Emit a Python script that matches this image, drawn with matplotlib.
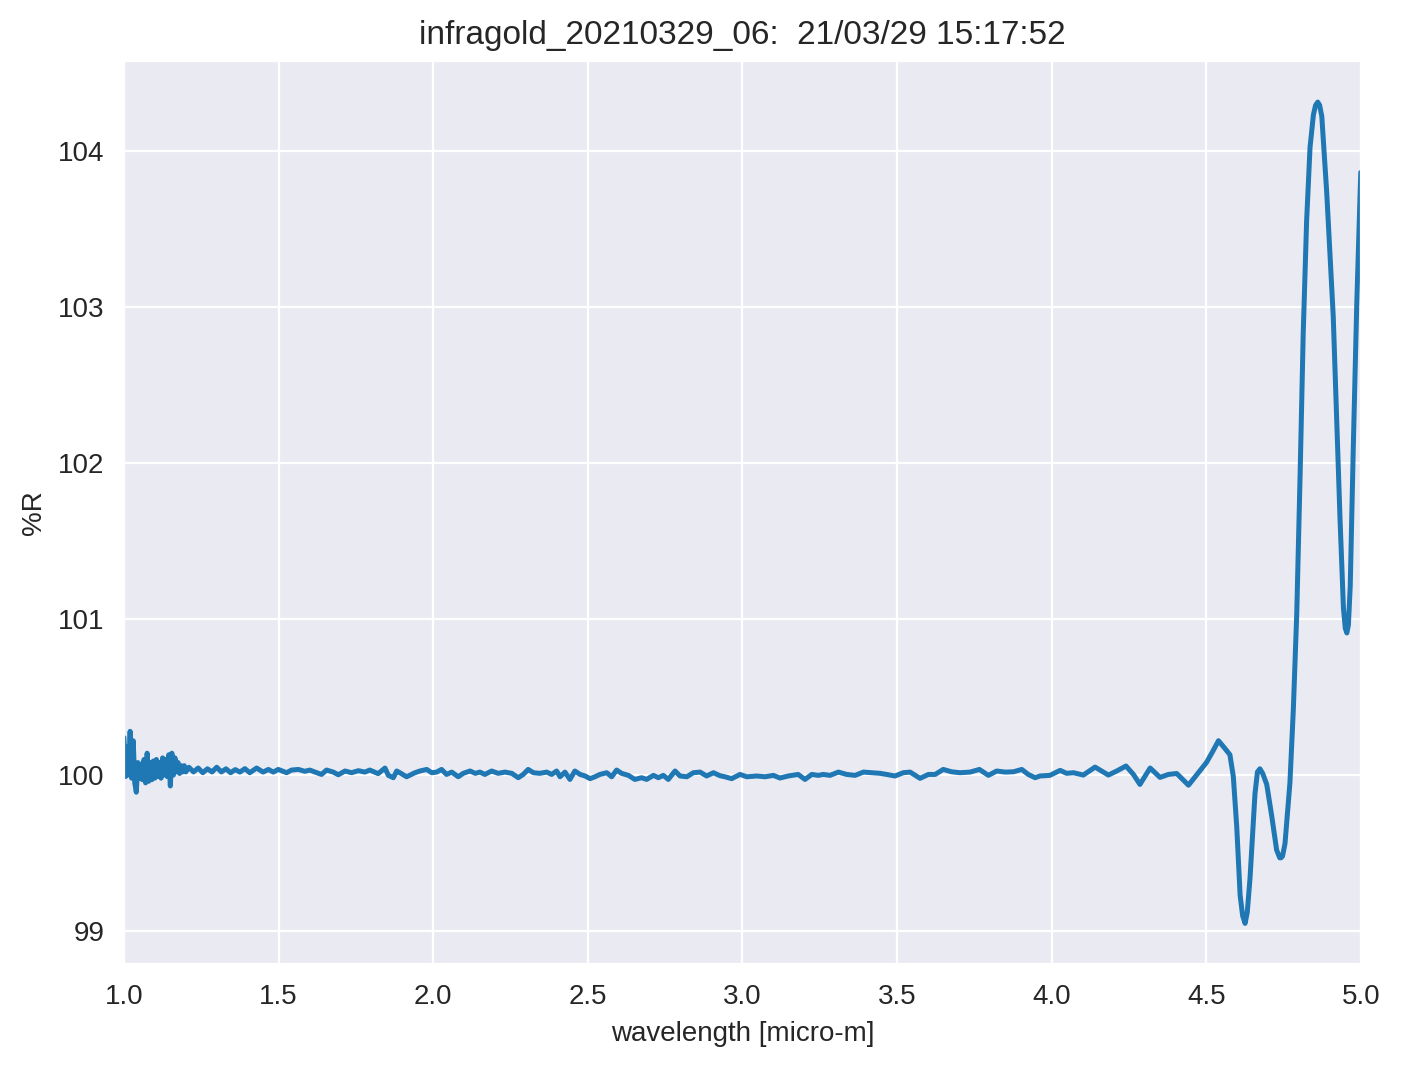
import matplotlib
matplotlib.use("Agg")
import matplotlib.pyplot as plt
import seaborn as sns
import numpy as np

title = "infragold_20210329_06:  21/03/29 15:17:52"
xlabel = "wavelength [micro-m]"
ylabel = "%R"

wavelength = [
    1.000, 1.005, 1.010, 1.015, 1.020, 1.025, 1.030, 1.035, 1.040, 1.045,
    1.050, 1.055, 1.060, 1.065, 1.070, 1.075, 1.080, 1.085, 1.090, 1.095,
    1.100, 1.105, 1.110, 1.115, 1.120, 1.125, 1.130, 1.135, 1.140, 1.145,
    1.150, 1.155, 1.160, 1.165, 1.170, 1.175, 1.180, 1.185, 1.190, 1.195, 1.200,
    1.210, 1.225, 1.240, 1.255, 1.270, 1.285, 1.300, 1.315, 1.330, 1.345, 1.360,
    1.375, 1.391, 1.407, 1.429, 1.450, 1.467, 1.483, 1.499, 1.526, 1.542,
    1.564, 1.585, 1.601, 1.618, 1.639, 1.655, 1.677, 1.693, 1.715, 1.736,
    1.758, 1.779, 1.795, 1.822, 1.844, 1.855, 1.871, 1.882, 1.892,
    1.914, 1.941, 1.957, 1.979, 1.995, 2.011, 2.027, 2.043, 2.060, 2.081,
    2.097, 2.119, 2.136, 2.151, 2.167, 2.189, 2.210, 2.232, 2.254, 2.275,
    2.291, 2.307, 2.324, 2.345, 2.367, 2.383, 2.399,
    2.410, 2.426, 2.442, 2.458, 2.475, 2.491, 2.507, 2.523, 2.539, 2.561,
    2.577, 2.593, 2.609, 2.631, 2.652, 2.674, 2.690, 2.712, 2.728, 2.744,
    2.760, 2.782, 2.798, 2.820, 2.841, 2.863, 2.884, 2.906,
    2.927, 2.943, 2.965, 2.992, 3.014, 3.046, 3.073, 3.100, 3.121, 3.148,
    3.180, 3.202, 3.224, 3.245, 3.261, 3.283, 3.310, 3.337, 3.364, 3.391, 3.418,
    3.445, 3.466, 3.493, 3.520, 3.542, 3.574, 3.601, 3.623, 3.649, 3.676,
    3.703, 3.736, 3.766, 3.795, 3.822, 3.849, 3.876, 3.903, 3.924, 3.946,
    3.962, 3.994, 4.027, 4.048, 4.070, 4.102, 4.140, 4.183, 4.210, 4.240,
    4.264, 4.285, 4.318, 4.350, 4.377, 4.404, 4.442, 4.480, 4.500,
    4.520, 4.539, 4.560, 4.576, 4.587, 4.598, 4.609, 4.617, 4.625, 4.632,
    4.641, 4.657, 4.665, 4.673, 4.682, 4.695, 4.711, 4.727, 4.737, 4.741,
    4.746, 4.754, 4.770, 4.781, 4.792, 4.803, 4.813, 4.824, 4.835, 4.846,
    4.853, 4.860, 4.866, 4.873, 4.889, 4.910, 4.921, 4.932, 4.943, 4.949,
    4.954, 4.959, 4.965, 4.975, 4.986, 4.999,
]

reflectance = [
    100.24, 99.99, 100.18, 100.00, 100.28, 99.98, 100.22, 99.95, 99.89, 100.08,
    99.98, 100.07, 99.97, 100.10, 99.95, 100.14, 99.96, 100.08, 99.97, 100.09,
    99.98, 100.10, 99.99, 100.08, 99.98, 100.11, 100.00, 100.10, 99.99, 100.13,
    99.93, 100.14, 100.00, 100.11, 100.02, 100.08, 100.01, 100.06, 100.02, 100.06, 100.02,
    100.05, 100.02, 100.045, 100.015, 100.04, 100.02, 100.05, 100.02, 100.04, 100.015, 100.035,
    100.019, 100.041, 100.015, 100.045, 100.019, 100.036, 100.019, 100.036, 100.015, 100.032,
    100.036, 100.024, 100.032, 100.019, 100.004, 100.032, 100.019, 100.002, 100.026, 100.015,
    100.028, 100.019, 100.032, 100.009, 100.045, 99.998, 99.983, 100.026, 100.015,
    99.989, 100.015, 100.026, 100.036, 100.015, 100.019, 100.036, 100.004, 100.019, 99.989,
    100.011, 100.026, 100.011, 100.019, 100.004, 100.026, 100.011, 100.019, 100.011, 99.983,
    100.004, 100.036, 100.015, 100.011, 100.019, 100.004, 100.026,
    99.989, 100.019, 99.972, 100.026, 100.004, 99.994, 99.977, 99.989, 100.004, 100.015,
    99.989, 100.032, 100.011, 99.998, 99.972, 99.983, 99.972, 99.998, 99.983, 99.998,
    99.972, 100.026, 99.994, 99.989, 100.015, 100.019, 99.994, 100.015,
    99.996, 99.989, 99.977, 100.004, 99.989, 99.994, 99.989, 99.998, 99.981, 99.994,
    100.004, 99.972, 100.004, 99.998, 100.004, 99.998, 100.019, 100.004, 99.998, 100.019, 100.015,
    100.011, 100.004, 99.994, 100.015, 100.019, 99.979, 100.004, 100.004, 100.036, 100.021,
    100.015, 100.019, 100.036, 99.998, 100.026, 100.019, 100.021, 100.036, 100.004, 99.983,
    99.994, 99.998, 100.030, 100.011, 100.015, 100.000, 100.051, 100.000, 100.026, 100.058,
    100.004, 99.940, 100.045, 99.985, 100.004, 100.010, 99.935, 100.030, 100.080,
    100.15, 100.22, 100.17, 100.13, 99.99, 99.67, 99.23, 99.10, 99.05, 99.12,
    99.34, 99.88, 100.02, 100.04, 100.01, 99.94, 99.74, 99.52, 99.47, 99.47,
    99.48, 99.56, 99.95, 100.42, 101.03, 101.93, 102.83, 103.55, 104.02, 104.23,
    104.29, 104.31, 104.29, 104.22, 103.73, 102.94, 102.29, 101.64, 101.07, 100.94,
    100.91, 100.96, 101.21, 102.11, 103.01, 103.86,
]

assert len(wavelength) == len(reflectance)

sns.set_style("darkgrid")
plt.rcParams["font.family"] = ["Liberation Sans", "DejaVu Sans"]

fig, ax = plt.subplots(figsize=(7.01, 5.345), dpi=200)
fig.subplots_adjust(left=0.0884, right=0.9708, bottom=0.0978, top=0.9429)
ax.plot(wavelength, reflectance, color="#1f77b4", linewidth=1.8,
        solid_joinstyle="round")
ax.set_xlim(1.0, 5.0)
ax.set_title(title)
ax.set_xlabel(xlabel)
ax.set_ylabel(ylabel)
fig.savefig("out.png", dpi=200)
